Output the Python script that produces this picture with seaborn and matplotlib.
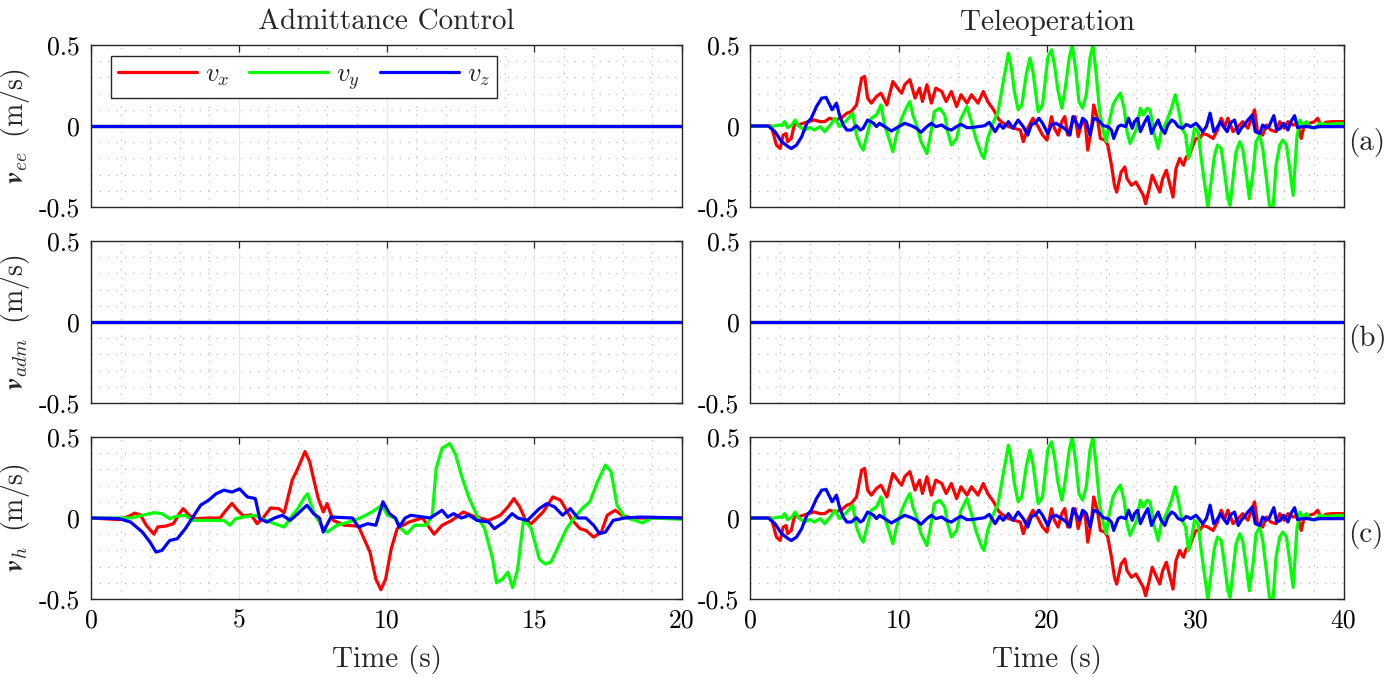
import numpy as np
import pandas as pd
import matplotlib
matplotlib.use("Agg")
import matplotlib.pyplot as plt
import matplotlib.transforms as mtransforms
from matplotlib.lines import Line2D
from matplotlib.ticker import MultipleLocator, FixedLocator, FixedFormatter
import seaborn as sns

# ---------------- data ----------------
components = ["vx", "vy", "vz"]
legend_labels = [r"$v_x$", r"$v_y$", r"$v_z$"]
colors = ["#ff0000", "#00ff00", "#0000ff"]

col_titles = ["Admittance Control", "Teleoperation"]
row_ylabels = [r"$\mathbfit{v}_{ee}\;\;$(m/s)", r"$\mathbfit{v}_{adm}\;\;$(m/s)", r"$\mathbfit{v}_{h}\;\;$(m/s)"]
row_tags = ["(a)", "(b)", "(c)"]
y_ticks = [-0.5, 0, 0.5]
y_ticklabels = ["-0.5", "0", "0.5"]
adm_xticks = [0, 5, 10, 15, 20]
adm_xticklabels = ["0", "5", "10", "15", "20"]
tel_xticks = [0, 10, 20, 30, 40]
tel_xticklabels = ["0", "10", "20", "30", "40"]

# zero signals
zero_t_adm = [0, 20]
zero_t_tel = [0, 40]
zero_v = [0, 0]

# Admittance control, human velocity v_h
adm_t_vx = [0, 0.95, 1.34, 1.47, 1.67, 1.87, 2.13, 2.26, 2.53, 2.79, 2.99, 3.12, 3.32, 3.52, 3.98, 4.37,
            4.57, 4.77, 4.96, 5.16, 5.42, 5.62, 5.82, 6.08, 6.35, 6.54, 6.81, 7.0, 7.24, 7.4, 7.53, 7.69,
            7.86, 7.99, 8.19, 8.58, 9.05, 9.24, 9.44, 9.64, 9.81, 9.97, 10.16, 10.36, 10.76, 11.22, 11.61,
            11.88, 12.21, 12.6, 12.93, 13.46, 13.85, 14.11, 14.31, 14.51, 14.71, 14.9, 15.3, 15.63, 15.89,
            16.09, 16.29, 16.55, 16.75, 17.01, 17.27, 17.47, 17.74, 18.0, 18.33, 20]
adm_vx = [0, -0.01, 0.015, 0.03, 0.02, -0.045, -0.1, -0.055, -0.05, -0.035, 0.027, 0.058, 0.017, -0.004, 0, 0,
          0.048, 0.09, 0.048, 0.012, 0.02, -0.035, 0, 0.062, 0.058, 0.033, 0.234, 0.306, 0.41, 0.348, 0.244, 0.12,
          0.037, 0.089, -0.014, -0.045, -0.05, -0.128, -0.21, -0.377, -0.443, -0.377, -0.19, -0.066, -0.025, 0, -0.1,
          -0.045, -0.015, 0.037, 0.012, -0.015, 0.017, 0.068, 0.12, 0.068, -0.015, -0.035, 0.037, 0.13, 0.11,
          0.048, -0.015, -0.066, -0.077, -0.118, -0.087, 0.017, 0.048, 0.012, 0, 0]

adm_t_vy = [0, 1.35, 1.74, 2.13, 2.4, 2.66, 2.92, 3.19, 3.45, 3.84, 4.5, 4.7, 4.9, 5.16, 5.56, 5.82, 6.21,
            6.54, 6.74, 7.0, 7.2, 7.33, 7.53, 7.79, 7.99, 8.32, 8.72, 9.11, 9.51, 9.84, 10.03, 10.3, 10.49,
            10.69, 10.95, 11.35, 11.55, 11.68, 11.88, 12.14, 12.34, 12.53, 12.8, 13.06, 13.32, 13.59, 13.72,
            13.92, 14.11, 14.27, 14.44, 14.64, 14.9, 15.17, 15.37, 15.56, 15.83, 16.09, 16.35, 16.62, 16.88,
            17.14, 17.41, 17.6, 17.8, 18.06, 18.66, 18.99, 20]
adm_vy = [0, 0, 0.017, 0.033, 0.027, -0.004, 0.012, 0.017, -0.015, -0.015, -0.015, -0.045, -0.004, 0.006, 0.017,
          -0.008, -0.035, -0.056, 0, 0.058, 0.12, 0.15, 0.037, -0.045, -0.087, -0.045, -0.025, 0, 0.037, 0.079,
          0.017, 0, -0.066, -0.097, -0.045, -0.045, 0.017, 0.306, 0.43, 0.46, 0.39, 0.265, 0.12, 0.017, -0.066,
          -0.253, -0.4, -0.377, -0.335, -0.43, -0.315, -0.004, -0.066, -0.253, -0.284, -0.273, -0.17, -0.066, 0,
          0.058, 0.1, 0.224, 0.327, 0.286, 0.079, 0.006, -0.03, 0, -0.008]

adm_t_vz = [0, 0.95, 1.34, 1.74, 2.0, 2.2, 2.4, 2.66, 2.92, 3.19, 3.45, 3.71, 3.98, 4.24, 4.5, 4.77, 5.03,
            5.29, 5.56, 5.71, 5.95, 6.21, 6.48, 6.74, 7.0, 7.31, 7.53, 7.73, 7.86, 8.12, 8.85, 9.05, 9.37, 9.64,
            9.88, 10.1, 10.3, 10.43, 10.63, 10.82, 11.48, 11.88, 12.07, 12.27, 12.53, 12.8, 13.06, 13.46, 13.65,
            13.98, 14.25, 14.44, 14.77, 15.17, 15.43, 15.69, 15.96, 16.22, 16.48, 16.75, 17.01, 17.21, 17.41,
            17.67, 18.06, 18.59, 20]
adm_vz = [0, -0.004, -0.025, -0.087, -0.15, -0.21, -0.2, -0.139, -0.128, -0.066, 0.006, 0.079, 0.11, 0.15, 0.172,
          0.16, 0.18, 0.13, 0.12, -0.004, -0.025, 0, 0.017, -0.015, 0.027, 0.079, 0.027, 0, -0.087, 0.006, 0,
          -0.056, -0.035, -0.045, 0.1, 0.027, 0, -0.056, 0, 0.017, 0, 0.048, 0.006, 0.027, 0, 0.017, -0.015,
          -0.025, -0.066, -0.025, 0.027, 0, -0.015, 0.058, 0.089, 0.068, 0.017, 0.058, 0, 0, -0.045, -0.097,
          -0.087, -0.015, 0, 0.006, 0]

# Teleoperation (v_ee and v_h nearly identical)
tel_t_vx = [0, 1.4, 1.75, 2.0, 2.2, 2.4, 2.5, 2.75, 3.0, 3.2, 3.55, 3.9, 4.3, 4.7, 5.0, 5.35, 5.7, 6.1, 6.5,
            6.8, 7.15, 7.5, 7.7, 7.9, 8.15, 8.5, 8.8, 9.2, 9.6, 10.0, 10.2, 10.4, 10.75, 11.1, 11.4, 11.6, 11.9,
            12.2, 12.5, 12.9, 13.2, 13.55, 13.9, 14.2, 14.6, 14.9, 15.35, 15.7, 16.0, 16.4, 16.7, 16.9, 17.4,
            17.8, 18.2, 18.4, 18.7, 19.05, 19.4, 19.7, 20.0, 20.3, 20.5, 20.75, 21.0, 21.2, 21.4, 21.65, 21.9,
            22.1, 22.3, 22.55, 22.75, 23.0, 23.15, 23.4, 23.6, 23.9, 24.1, 24.35, 24.55, 24.7, 25.0, 25.25,
            25.4, 25.7, 26.0, 26.25, 26.5, 26.65, 26.9, 27.1, 27.4, 27.6, 27.8, 28.05, 28.3, 28.5, 28.7, 28.95,
            29.2, 29.4, 29.6, 29.85, 30.05, 30.3, 30.5, 30.85, 31.2, 31.5, 31.75, 32.0, 32.2, 32.55, 32.9, 33.2,
            33.55, 33.8, 34.0, 34.2, 34.55, 34.8, 35.1, 35.45, 35.7, 36.0, 36.25, 36.6, 36.9, 37.15, 37.35, 37.7,
            38.05, 38.25, 38.5, 38.8, 39.2, 40]
tel_vx = [0, 0, -0.118, -0.139, -0.056, -0.046, -0.097, -0.077, 0.027, 0.006, 0.017, 0.027, 0.037, 0.027, 0.027,
          0.048, 0.037, 0.048, 0.079, 0.089, 0.13, 0.296, 0.306, 0.172, 0.141, 0.182, 0.203, 0.13, 0.275, 0.224,
          0.203, 0.255, 0.286, 0.172, 0.234, 0.151, 0.255, 0.141, 0.234, 0.213, 0.151, 0.213, 0.12, 0.193, 0.141,
          0.193, 0.141, 0.213, 0.151, 0.1, 0.048, 0.027, -0.004, -0.014, -0.025, -0.097, -0.014, 0.048, -0.004,
          -0.056, -0.087, 0.058, -0.014, -0.056, 0.027, 0.058, -0.056, 0.006, 0.058, -0.066, 0.006, 0.037, -0.149,
          -0.014, 0.13, 0.048, -0.077, -0.087, -0.118, -0.242, -0.366, -0.408, -0.284, -0.253, -0.325, -0.366,
          -0.346, -0.387, -0.429, -0.48, -0.387, -0.304, -0.366, -0.408, -0.325, -0.273, -0.366, -0.439, -0.263,
          -0.2, -0.242, -0.19, -0.18, -0.118, -0.077, -0.077, -0.046, -0.056, -0.077, -0.025, 0.048, -0.004, 0.048,
          -0.035, -0.004, 0.027, -0.014, 0.048, 0.1, -0.035, -0.056, 0.006, -0.025, -0.035, 0.027, -0.014, 0.027,
          0.006, 0.017, -0.077, 0.006, 0.017, 0.027, 0.048, 0.002, 0.023, 0.027, 0.027]

tel_t_vy = [0, 1.0, 1.4, 1.9, 2.1, 2.3, 2.5, 2.8, 3.0, 3.3, 3.65, 4.0, 4.3, 4.7, 5.0, 5.35, 5.7, 6.0, 6.4, 6.7,
            6.9, 7.15, 7.4, 7.6, 7.8, 8.15, 8.5, 8.8, 9.05, 9.4, 9.6, 9.85, 10.2, 10.5, 10.75, 10.95, 11.2, 11.5,
            11.9, 12.1, 12.4, 12.75, 13.1, 13.3, 13.55, 13.9, 14.2, 14.6, 14.9, 15.2, 15.6, 15.75, 16.0, 16.4,
            16.7, 17.05, 17.4, 17.6, 17.8, 18.05, 18.3, 18.6, 18.85, 19.05, 19.4, 19.7, 20.05, 20.3, 20.5, 20.75,
            21.0, 21.2, 21.5, 21.7, 21.95, 22.15, 22.4, 22.65, 22.9, 23.1, 23.3, 23.55, 23.8, 24.0, 24.2, 24.45,
            24.7, 24.95, 25.2, 25.4, 25.6, 25.85, 26.05, 26.3, 26.5, 26.75, 26.95, 27.25, 27.5, 27.7, 27.95,
            28.15, 28.4, 28.65, 28.9, 29.1, 29.35, 29.55, 29.75, 29.95, 30.2, 30.4, 30.65, 30.85, 31.1, 31.3,
            31.5, 31.75, 32.0, 32.2, 32.35, 32.55, 32.75, 33.0, 33.2, 33.45, 33.65, 33.9, 34.1, 34.35, 34.55,
            34.8, 35.0, 35.25, 35.45, 35.7, 35.9, 36.15, 36.4, 36.6, 36.85, 37.05, 37.25, 37.5, 37.75, 38.05,
            38.4, 38.85, 40]
tel_vy = [0, 0, -0.004, 0.006, 0.002, 0.027, -0.01, 0.006, 0.037, -0.004, -0.025, -0.01, -0.025, -0.004, -0.035,
          0.002, 0.048, -0.004, 0.027, 0.058, 0.079, -0.056, -0.118, -0.149, -0.077, 0.048, 0.068, 0.13, 0.006,
          -0.097, -0.159, -0.056, 0.048, 0.11, 0.151, 0.068, 0.006, -0.097, -0.17, -0.077, 0.089, 0.11, 0.068,
          -0.035, -0.118, -0.077, 0.048, 0.12, 0.027, -0.077, -0.18, -0.2, -0.077, 0.027, 0.089, 0.275, 0.45,
          0.358, 0.213, 0.1, 0.13, 0.317, 0.42, 0.337, 0.089, 0.13, 0.42, 0.47, 0.379, 0.213, 0.11, 0.213, 0.42,
          0.499, 0.337, 0.151, 0.11, 0.193, 0.42, 0.499, 0.337, 0.089, -0.035, -0.097, 0.027, 0.13, 0.172, 0.203,
          0.11, -0.035, -0.108, -0.056, -0.014, 0.11, 0.068, 0.11, 0.1, -0.056, -0.139, -0.035, 0.006, 0.048,
          0.11, 0.193, 0.089, -0.014, -0.056, -0.2, -0.118, -0.014, -0.035, -0.2, -0.366, -0.5, -0.325, -0.18,
          -0.118, -0.139, -0.304, -0.449, -0.49, -0.325, -0.159, -0.097, -0.139, -0.304, -0.449, -0.284, -0.097,
          -0.056, -0.139, -0.325, -0.49, -0.5, -0.242, -0.118, -0.087, -0.118, -0.284, -0.429, -0.077, 0.037,
          0.006, 0.027, -0.004, -0.014, 0.017, 0.01, 0.017]

tel_t_vz = [0, 1.2, 1.65, 2.1, 2.55, 2.75, 3.1, 3.45, 3.8, 4.1, 4.45, 4.8, 5.1, 5.35, 5.5, 5.8, 6.0, 6.25, 6.5,
            6.8, 7.15, 7.4, 7.6, 7.9, 8.3, 8.5, 8.7, 9.05, 9.5, 10.0, 10.4, 10.85, 11.2, 11.5, 11.9, 12.2, 12.5,
            12.9, 13.2, 13.55, 13.9, 14.2, 14.6, 14.9, 15.35, 15.8, 16.1, 16.5, 16.8, 17.05, 17.4, 17.7, 18.05,
            18.4, 18.7, 18.95, 19.2, 19.45, 19.7, 20.05, 20.3, 20.6, 21.0, 21.3, 21.55, 21.75, 22.0, 22.2, 22.4,
            22.65, 22.9, 23.15, 23.45, 23.8, 24.1, 24.35, 24.5, 24.8, 25.0, 25.3, 25.5, 25.75, 25.9, 26.1, 26.3,
            26.55, 26.8, 27.05, 27.25, 27.5, 27.7, 27.95, 28.15, 28.4, 28.6, 28.85, 29.15, 29.4, 29.7, 30.05,
            30.3, 30.5, 30.75, 31.0, 31.25, 31.45, 31.7, 31.9, 32.15, 32.35, 32.65, 32.9, 33.1, 33.3, 33.55,
            33.85, 34.05, 34.35, 34.55, 34.8, 35.0, 35.3, 35.5, 35.75, 35.95, 36.25, 36.45, 36.7, 36.9, 37.25,
            37.6, 37.95, 38.4, 40]
tel_vz = [0, 0, -0.035, -0.097, -0.128, -0.139, -0.118, -0.066, 0.017, 0.048, 0.12, 0.172, 0.176, 0.13, 0.1,
          0.141, 0.068, 0.006, -0.025, -0.025, 0.002, -0.025, -0.014, 0.037, 0.017, -0.004, 0.017, -0.004, -0.031,
          -0.004, 0.017, 0.002, -0.014, -0.039, -0.004, 0.017, -0.004, 0.006, -0.014, -0.025, -0.004, 0.01, -0.01,
          -0.01, -0.004, 0.002, 0.023, -0.035, 0.01, -0.014, 0.027, -0.014, 0.037, -0.004, -0.056, 0.01, 0.017,
          0.048, 0.017, -0.046, 0.006, 0.017, -0.004, -0.025, -0.056, 0.058, 0.017, -0.014, 0.048, 0.027, -0.056,
          0.048, 0.037, 0.002, -0.004, -0.025, -0.077, -0.004, 0.006, -0.004, 0.048, -0.014, 0.027, 0.048,
          -0.035, 0.017, 0.058, -0.046, -0.004, 0.037, -0.014, -0.046, 0.006, 0.037, 0.027, -0.004, -0.014, 0.01,
          -0.004, 0.017, -0.01, -0.035, -0.004, 0.079, -0.035, -0.014, 0.027, -0.004, -0.035, 0.017, 0.037,
          -0.046, -0.014, 0.006, 0.037, 0.068, -0.035, -0.046, 0.006, -0.014, 0.002, 0.064, -0.025, -0.014,
          0.017, -0.025, 0.027, 0.064, -0.01, -0.004, -0.004, -0.01, -0.004, -0.004]


def make_df(tx, vx, ty, vy, tz, vz):
    parts = []
    for name, t, v in zip(components, [tx, ty, tz], [vx, vy, vz]):
        parts.append(pd.DataFrame({"t": t, "v": v, "comp": name}))
    return pd.concat(parts, ignore_index=True)


zero_adm = make_df(zero_t_adm, zero_v, zero_t_adm, zero_v, zero_t_adm, zero_v)
zero_tel = make_df(zero_t_tel, zero_v, zero_t_tel, zero_v, zero_t_tel, zero_v)
adm_h = make_df(adm_t_vx, adm_vx, adm_t_vy, adm_vy, adm_t_vz, adm_vz)
tel_ee = make_df(tel_t_vx, tel_vx, tel_t_vy, tel_vy, tel_t_vz, tel_vz)
tel_h = tel_ee.copy()

panels = [[zero_adm, tel_ee], [zero_adm, zero_tel], [adm_h, tel_h]]

# ---------------- style ----------------
sns.set_theme(style="white")
plt.rcParams["font.family"] = ["cmr10", "DejaVu Serif"]
plt.rcParams["mathtext.fontset"] = "cm"
plt.rcParams["axes.formatter.use_mathtext"] = True
plt.rcParams["axes.unicode_minus"] = False

W, H = 1396, 678
fig = plt.figure(figsize=(W / 100, H / 100), dpi=100)
fig.patch.set_facecolor("white")

col_x = [91 / W, 750.5 / W]
col_w = [(682 - 91) / W, (1343.5 - 750.5) / W]
row_top = [45, 241, 437]
row_h = 162

palette = dict(zip(components, colors))
edge = "#262626"

for r in range(3):
    for c in range(2):
        ax = fig.add_axes([col_x[c], 1 - (row_top[r] + row_h) / H, col_w[c], row_h / H])
        sns.lineplot(data=panels[r][c], x="t", y="v", hue="comp", hue_order=components,
                     palette=palette, estimator=None, sort=False, linewidth=2.3,
                     ax=ax, legend=False)
        xmax = 20 if c == 0 else 40
        ax.set_xlim(0, xmax)
        ax.set_ylim(-0.5, 0.5)
        if c == 0:
            ax.xaxis.set_major_locator(FixedLocator(adm_xticks))
            ax.xaxis.set_minor_locator(MultipleLocator(1))
            xtl = adm_xticklabels
        else:
            ax.xaxis.set_major_locator(FixedLocator(tel_xticks))
            ax.xaxis.set_minor_locator(MultipleLocator(2))
            xtl = tel_xticklabels
        ax.yaxis.set_major_locator(FixedLocator(y_ticks))
        ax.yaxis.set_major_formatter(FixedFormatter(y_ticklabels))
        ax.yaxis.set_minor_locator(MultipleLocator(0.1))
        if r == 2:
            ax.xaxis.set_major_formatter(FixedFormatter(xtl))
            ax.set_xlabel("Time (s)", fontsize=21, labelpad=9)
        else:
            ax.set_xticklabels([])
            ax.set_xlabel("")
        ax.grid(which="major", color="#e6e6e6", linewidth=0.8, linestyle="-")
        ax.grid(which="minor", color="#b0b0b0", linewidth=0.8, linestyle=(0, (1, 6.5)))
        ax.set_axisbelow(True)
        ax.tick_params(which="major", direction="in", top=True, right=True, length=5,
                       width=0.9, color=edge, labelsize=18.5, labelcolor="black")
        ax.tick_params(axis="y", which="major", pad=8)
        ax.tick_params(axis="x", which="major", pad=7)
        ax.tick_params(which="minor", length=0)
        for s in ax.spines.values():
            s.set_color(edge)
            s.set_linewidth(1.0)
            s.set_visible(True)
        if c == 0:
            ax.set_ylabel(row_ylabels[r], fontsize=20, labelpad=5)
        else:
            ax.set_ylabel("")
            trans = mtransforms.blended_transform_factory(ax.transAxes, ax.transData)
            ax.text(1.007, -0.1, row_tags[r], transform=trans, ha="left", va="center",
                    fontsize=21)
        if r == 0:
            ax.set_title(col_titles[c], fontsize=21, pad=11)
        if r == 0 and c == 0:
            handles = [Line2D([0], [0], color=col, lw=2.3) for col in colors]
            leg = ax.legend(handles, legend_labels, loc="upper left",
                            bbox_to_anchor=(0.034, 0.934), ncol=3, fontsize=19,
                            frameon=True, fancybox=False, framealpha=1, edgecolor=edge,
                            handlelength=3.0, handletextpad=0.3, columnspacing=0.75,
                            borderaxespad=0, borderpad=0.25)
            leg.get_frame().set_linewidth(1.0)

fig.savefig("out.png", dpi=100, facecolor="white")
